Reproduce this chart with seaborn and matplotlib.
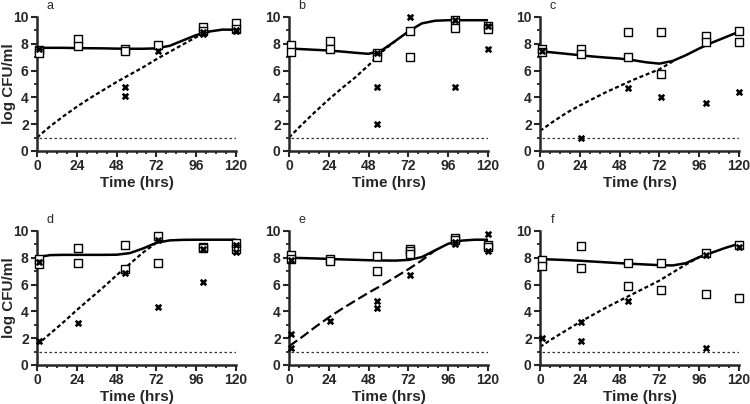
import numpy as np
import pandas as pd
import matplotlib
matplotlib.use("Agg")
import matplotlib.pyplot as plt
from matplotlib.ticker import MultipleLocator
import seaborn as sns

# sampling times (hrs) and grid used for the fitted curves
times = [1, 25, 53, 73, 100, 120]
curve_t = [0, 8, 16, 24, 32, 40, 48, 56, 64, 72, 80, 88, 96, 104, 112, 120]
detection_limit = 1.0
nan = np.nan

# panel a
sq_a_t = [1, 1, 25, 25, 53, 53, 73, 100, 100, 120, 120]
sq_a_y = [7.55, 7.35, 8.35, 7.8, 7.63, 7.45, 7.88, 9.28, 8.95, 9.55, 9.1]
x_a_t = [1, 53, 53, 73, 100, 100, 120, 120]
x_a_y = [7.6, 4.75, 4.1, 7.48, 8.7, 8.85, 8.95, 9.0]
fit_a = [7.7, 7.7, 7.7, 7.68, 7.67, 7.66, 7.64, 7.63, 7.63, 7.66, 7.85, 8.25, 8.65, 8.92, 9.06, 9.05]
dash_a = [1.0, 1.85, 2.6, 3.3, 3.95, 4.55, 5.15, 5.7, 6.25, 6.85, 7.4, 7.95, 8.5, 8.9, nan, nan]

# panel b
sq_b_t = [1, 1, 25, 25, 53, 53, 73, 73, 100, 100, 120, 120]
sq_b_y = [7.9, 7.4, 8.18, 7.63, 7.3, 7.0, 8.98, 7.0, 9.75, 9.18, 9.3, 9.1]
x_b_t = [53, 53, 53, 73, 100, 100, 120, 120]
x_b_y = [7.3, 4.76, 2.0, 10.0, 9.75, 4.76, 9.35, 7.63]
fit_b = [7.65, 7.6, 7.55, 7.5, 7.42, 7.33, 7.25, 7.52, 8.2, 8.92, 9.52, 9.72, 9.76, 9.76, 9.76, 9.76]
dash_b = [1.0, 2.0, 2.95, 3.85, 4.7, 5.5, 6.4, 7.4, 8.2, nan, nan, nan, nan, nan, nan, nan]

# panel c
sq_c_t = [1, 1, 25, 25, 53, 53, 73, 73, 100, 100, 120, 120]
sq_c_y = [7.6, 7.38, 7.63, 7.23, 8.88, 7.0, 8.9, 5.76, 8.55, 8.15, 8.98, 8.13]
x_c_t = [1, 25, 53, 73, 100, 120]
x_c_y = [7.5, 1.0, 4.69, 4.02, 3.57, 4.44]
fit_c = [7.45, 7.35, 7.25, 7.15, 7.05, 6.97, 6.9, 6.78, 6.62, 6.52, 6.72, 7.15, 7.65, 8.1, 8.5, 8.9]
dash_c = [1.5, 2.2, 2.85, 3.4, 3.9, 4.4, 4.85, 5.3, 5.7, 6.1, 6.68, nan, nan, nan, nan, nan]

# panel d
sq_d_t = [1, 1, 25, 25, 53, 53, 73, 73, 100, 100, 120, 120]
sq_d_y = [7.93, 7.55, 8.73, 7.63, 8.93, 7.18, 9.63, 7.63, 8.8, 8.7, 9.1, 8.68]
x_d_t = [1, 1, 25, 53, 73, 73, 100, 100, 120, 120]
x_d_y = [7.7, 1.8, 3.1, 6.88, 9.3, 4.3, 8.63, 6.18, 8.93, 8.43]
fit_d = [8.05, 8.2, 8.22, 8.22, 8.22, 8.22, 8.23, 8.35, 8.7, 9.12, 9.3, 9.34, 9.35, 9.35, 9.35, 9.35]
dash_d = [1.5, 2.35, 3.2, 4.1, 4.95, 5.8, 6.7, 7.55, 8.4, 9.12, nan, nan, nan, nan, nan, nan]

# panel e
sq_e_t = [1, 1, 25, 25, 53, 53, 73, 73, 73, 100, 100, 120, 120]
sq_e_y = [8.18, 7.93, 7.93, 7.73, 8.13, 7.05, 8.63, 8.48, 8.3, 9.48, 9.3, 8.98, 8.8]
x_e_t = [1, 1, 1, 25, 53, 53, 73, 100, 100, 120, 120]
x_e_y = [7.8, 2.35, 1.3, 3.25, 4.8, 4.25, 6.68, 9.18, 9.0, 9.8, 8.48]
fit_e = [8.0, 7.98, 7.95, 7.92, 7.88, 7.85, 7.82, 7.8, 7.79, 7.84, 8.05, 8.55, 9.05, 9.28, 9.35, 9.35]
dash_e = [1.4, 2.1, 2.85, 3.55, 4.2, 4.8, 5.4, 5.95, 6.55, 7.15, 7.8, 8.55, nan, nan, nan, nan]

# panel f
sq_f_t = [1, 1, 25, 25, 53, 53, 73, 73, 100, 100, 120, 120]
sq_f_y = [7.8, 7.38, 8.88, 7.25, 7.6, 5.93, 7.6, 5.6, 8.38, 5.3, 8.98, 5.0]
x_f_t = [1, 25, 25, 53, 100, 100, 120]
x_f_y = [2.05, 3.18, 1.8, 4.8, 8.18, 1.3, 8.8]
fit_f = [7.9, 7.87, 7.83, 7.78, 7.72, 7.66, 7.6, 7.55, 7.5, 7.45, 7.43, 7.6, 8.05, 8.4, 8.75, 9.05]
dash_f = [1.35, 2.0, 2.6, 3.2, 3.75, 4.3, 4.8, 5.3, 5.8, 6.3, 6.9, 7.5, 8.05, nan, nan, nan]

panels = [
    ("a", sq_a_t, sq_a_y, x_a_t, x_a_y, fit_a, dash_a),
    ("b", sq_b_t, sq_b_y, x_b_t, x_b_y, fit_b, dash_b),
    ("c", sq_c_t, sq_c_y, x_c_t, x_c_y, fit_c, dash_c),
    ("d", sq_d_t, sq_d_y, x_d_t, x_d_y, fit_d, dash_d),
    ("e", sq_e_t, sq_e_y, x_e_t, x_e_y, fit_e, dash_e),
    ("f", sq_f_t, sq_f_y, x_f_t, x_f_y, fit_f, dash_f),
]

sns.set_style("ticks")
plt.rcParams["font.family"] = ["Liberation Sans", "DejaVu Sans"]

fig = plt.figure(figsize=(7.5, 4.04), dpi=100)
lefts = [37 / 750, 289 / 750, 540 / 750]
bottoms = [1 - 151 / 404, 1 - 365 / 404]
w, h = 199 / 750, 134 / 404

for i, (letter, sq_t, sq_y, x_t, x_y, fit, dash) in enumerate(panels):
    ax = fig.add_axes([lefts[i % 3], bottoms[i // 3], w, h])

    curves = pd.DataFrame({"t": curve_t, "fit": fit, "dash": dash})
    # detection limit
    sns.lineplot(x=[1, 120], y=[detection_limit, detection_limit], ax=ax,
                 color="#333333", lw=0.9, ls=(0, (2, 2)))
    sns.lineplot(data=curves, x="t", y="fit", ax=ax, color="black", lw=1.8)
    dash_style = (0, (4.5, 1.8)) if letter == "e" else (0, (1.8, 1.2))
    sns.lineplot(data=curves.dropna(), x="t", y="dash", ax=ax, color="black",
                 lw=1.6, ls=dash_style)

    sns.scatterplot(x=sq_t, y=sq_y, ax=ax, marker="s", s=26, facecolor="white",
                    edgecolor="black", linewidth=1.0, clip_on=False, zorder=4)
    sns.scatterplot(x=x_t, y=x_y, ax=ax, marker="x", s=16, color="black",
                    linewidth=1.9, clip_on=False, zorder=5)

    ax.set_xlim(0, 120)
    ax.set_ylim(0, 10)
    ax.xaxis.set_major_locator(MultipleLocator(24))
    ax.xaxis.set_minor_locator(MultipleLocator(6))
    ax.yaxis.set_major_locator(MultipleLocator(2))
    ax.yaxis.set_minor_locator(MultipleLocator(1))
    ax.tick_params(which="major", length=4, width=1.5, pad=2, labelsize=10)
    ax.tick_params(which="minor", length=2.5, width=1.3)
    for lab in ax.get_xticklabels() + ax.get_yticklabels():
        lab.set_fontweight("bold")
    for side in ["left", "bottom"]:
        ax.spines[side].set_linewidth(1.8)
    sns.despine(ax=ax)

    ax.set_xlabel("Time (hrs)", fontsize=11, fontweight="bold", labelpad=2)
    if i % 3 == 0:
        ax.set_ylabel("log CFU/ml", fontsize=11, fontweight="bold")
        ax.yaxis.set_label_coords(-0.108, 0.5)
    else:
        ax.set_ylabel("")
    ax.text(0.065, 1.08, letter, transform=ax.transAxes, fontsize=9,
            ha="center", va="center")

fig.savefig("out.png", dpi=100)
